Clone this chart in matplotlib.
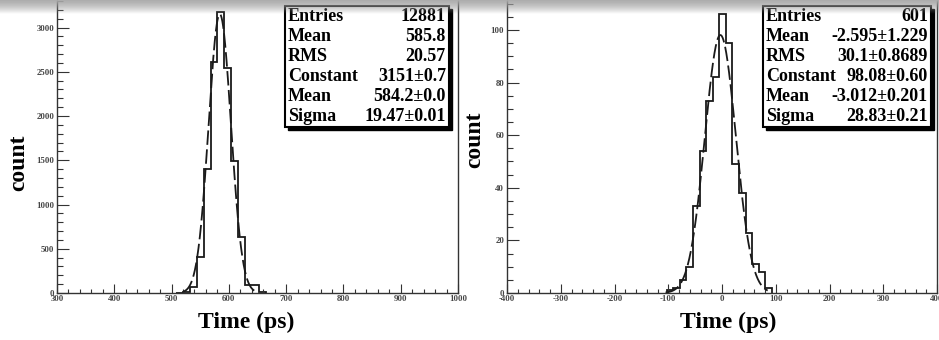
import numpy as np
import matplotlib.pyplot as plt
from matplotlib.patches import Rectangle
from matplotlib.ticker import MultipleLocator

# --- data ---
# left: timing of single channel
left_lo, left_bw = 508, 12
left_counts = [5, 15, 71, 411, 1400, 2611, 3173, 2543, 1486, 637, 95, 85, 15]
left_fit = (3151, 584.2, 19.47)       # constant, mean, sigma
left_fit_range = (520, 650)
left_xlim = (300, 1000)
left_ymax = 3311

# right: time difference
right_lo, right_bw = -103, 12.25
right_counts = [1, 2, 5, 10, 33, 54, 73, 82, 106, 95, 49, 38, 23, 11, 8, 2]
right_fit = (98.08, -3.012, 28.83)
right_fit_range = (-105, 85)
right_xlim = (-400, 400)
right_ymax = 111.4

stat_names = ["Entries", "Mean", "RMS", "Constant", "Mean", "Sigma"]
left_stats = ["12881", "585.8", "20.57", "3151±0.7", "584.2±0.0", "19.47±0.01"]
right_stats = ["601", "-2.595±1.229", "30.1±0.8689", "98.08±0.60",
               "-3.012±0.201", "28.83±0.21"]

W, H = 939, 340
serif = "Liberation Serif"

fig = plt.figure(figsize=(W / 100, H / 100), dpi=100)


def fx(px):
    return px / W


def fy(py):
    return 1 - py / H


def panel(x0, x1, counts, lo, bw, fit, fit_range, xlim, ymax,
          xmajor, xminor, ymajor, yminor, xlab_x, ylab_x, ylab_y):
    ax = fig.add_axes([fx(x0), fy(293), fx(x1 - x0), 293 / H])
    edges = lo + bw * np.arange(len(counts) + 1)
    ax.stairs(counts, edges, color="#1a1a1a", lw=1.3)
    c, m, s = fit
    xx = np.linspace(fit_range[0], fit_range[1], 400)
    ax.plot(xx, c * np.exp(-0.5 * ((xx - m) / s) ** 2), color="#1a1a1a",
            lw=1.3, dashes=(8, 2.5))
    ax.set_xlim(xlim)
    ax.set_ylim(0, ymax)
    ax.spines["top"].set_visible(False)
    for sp in ["left", "bottom", "right"]:
        ax.spines[sp].set_linewidth(1.0)
        ax.spines[sp].set_color("#333333")
    ax.xaxis.set_major_locator(MultipleLocator(xmajor))
    ax.xaxis.set_minor_locator(MultipleLocator(xminor))
    ax.yaxis.set_major_locator(MultipleLocator(ymajor))
    ax.yaxis.set_minor_locator(MultipleLocator(yminor))
    ax.tick_params(which="both", direction="in", colors="#333333",
                   labelcolor="#444444", labelsize=6.3, width=0.8)
    ax.tick_params(axis="y", which="major", length=8.5, pad=2)
    ax.tick_params(axis="y", which="minor", length=4.3)
    ax.tick_params(axis="x", which="major", length=6.5, pad=1.5)
    ax.tick_params(axis="x", which="minor", length=3)
    xt = np.arange(xlim[0], xlim[1] + 1, xmajor)
    ax.set_xticks(xt)
    ax.set_xticklabels([str(int(v)) for v in xt])
    yt = np.arange(0, ymax, ymajor)
    ax.set_yticks(yt)
    ax.set_yticklabels([str(int(v)) for v in yt])
    for lab in ax.get_xticklabels() + ax.get_yticklabels():
        lab.set_fontfamily(serif)
        lab.set_fontweight("bold")
    fig.text(fx(xlab_x), fy(322), "Time (ps)", ha="center", va="center",
             fontsize=17, fontweight="bold", family=serif)
    fig.text(fx(ylab_x), fy(ylab_y), "count", ha="center", va="center",
             rotation=90, fontsize=17, fontweight="bold", family=serif)
    return ax


def stats_box(x0, x1, vals):
    y0, y1 = 6, 127
    fig.patches.append(Rectangle((fx(x0 + 3), fy(y1 + 3)), fx(x1 - x0),
                                 (y1 - y0) / H, transform=fig.transFigure,
                                 facecolor="black", edgecolor="black",
                                 zorder=5))
    fig.patches.append(Rectangle((fx(x0), fy(y1)), fx(x1 - x0),
                                 (y1 - y0) / H, transform=fig.transFigure,
                                 facecolor="white", edgecolor="black",
                                 lw=1.5, zorder=6))
    for i, (n, v) in enumerate(zip(stat_names, vals)):
        yy = 16.5 + i * 20
        fig.text(fx(x0 + 3), fy(yy), n, ha="left", va="center",
                 fontsize=13, fontweight="bold", family=serif, zorder=7)
        fig.text(fx(x1 - 3), fy(yy), v, ha="right", va="center",
                 fontsize=13, fontweight="bold", family=serif, zorder=7)


panel(57, 458, left_counts, left_lo, left_bw, left_fit, left_fit_range,
      left_xlim, left_ymax, 100, 20, 500, 100, 246, 19, 163)
panel(507, 937, right_counts, right_lo, right_bw, right_fit, right_fit_range,
      right_xlim, right_ymax, 100, 20, 20, 5, 728, 475, 140)

stats_box(285, 449, left_stats)
stats_box(763, 931, right_stats)

# faint grey fade along the top edge, as in the scanned figure
gax = fig.add_axes([0, fy(14), 1, 14 / H], zorder=8)
grad = np.linspace(0, 1, 50)[:, None] * np.ones((1, 2))
gax.imshow(grad, cmap="Greys", vmin=-3, vmax=4, aspect="auto",
           alpha=np.linspace(1, 0, 50)[:, None] * np.ones((1, 2)))
gax.axis("off")

fig.savefig("out.png", dpi=100)
